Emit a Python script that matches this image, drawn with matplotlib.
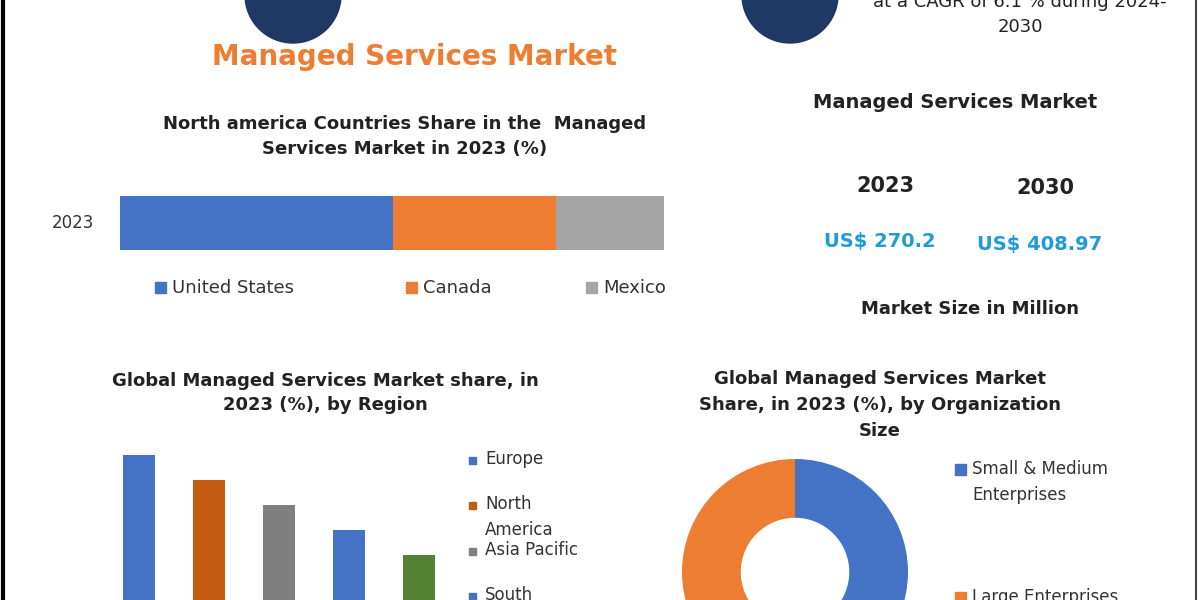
import matplotlib.pyplot as plt
from matplotlib.patches import Circle, Rectangle

W, H = 1200, 600

# data
na_countries = ['United States', 'Canada', 'Mexico']
na_share = [50.2, 30.0, 19.8]
na_colors = ['#4472c4', '#ed7d31', '#a5a5a5']

regions = ['Europe', 'North\nAmerica', 'Asia Pacific', 'South\nAmerica', 'Middle East\n& Africa']
region_share = [39, 34, 29, 24, 19]
region_colors = ['#4472c4', '#c55a11', '#7f7f7f', '#4472c4', '#548235']

org_sizes = ['Small & Medium\nEnterprises', 'Large Enterprises']
org_share = [50, 50]
org_colors = ['#4472c4', '#ed7d31']

market_years = ['2023', '2030']
market_values = ['US$ 270.2', 'US$ 408.97']

fig = plt.figure(figsize=(12, 6), dpi=100)
fig.patch.set_facecolor('white')


def ax_px(x0, y0, x1, y1):
    # pixel box (top-left origin) -> figure axes
    return fig.add_axes([x0 / W, 1 - y1 / H, (x1 - x0) / W, (y1 - y0) / H])


def txt(x, y, s, **kw):
    fig.text(x / W, 1 - y / H, s, ha='center', va='center', **kw)


# decorations at the top
bg = ax_px(0, 0, W, H)
bg.set_xlim(0, W)
bg.set_ylim(H, 0)
bg.axis('off')
for cx in (293, 790):
    bg.add_patch(Circle((cx, -5), 48, color='#1f3864'))
bg.plot([3, 3], [0, H], color='black', lw=3)
bg.plot([1196, 1196], [0, H], color='#444444', lw=1.5)

txt(1020, 2, 'at a CAGR of 6.1 % during 2024-', fontsize=13, color='#222222')
txt(1020, 27, '2030', fontsize=13, color='#222222')
txt(415, 57, 'Managed Services Market', fontsize=20, fontweight='bold', color='#ed7d31')

# North america stacked bar
txt(405, 137, 'North america Countries Share in the  Managed\nServices Market in 2023 (%)',
    fontsize=13, fontweight='bold', color='#222222', linespacing=1.5)
ax1 = ax_px(120, 196, 664, 250)
left = 0
for name, v, c in zip(na_countries, na_share, na_colors):
    ax1.barh(0, v, left=left, color=c, height=1.0)
    left += v
ax1.set_xlim(0, 100)
ax1.set_ylim(-0.5, 0.5)
ax1.axis('off')
txt(73, 223, '2023', fontsize=12, color='#333333')
for x, name, c in zip((155, 406, 586), na_countries, na_colors):
    bg.add_patch(Rectangle((x, 282), 11, 11, color=c))
    fig.text((x + 17) / W, 1 - 288 / H, name, ha='left', va='center', fontsize=13, color='#333333')

# right panel
txt(955, 102, 'Managed Services Market', fontsize=14, fontweight='bold', color='#222222')
for x, y, yr, val in zip((885, 1045), (186, 188), market_years, market_values):
    txt(x, y, yr, fontsize=15, fontweight='bold', color='#222222')
    txt(x - 5, y + 56, val, fontsize=14, fontweight='bold', color='#1f9bd7')
txt(970, 309, 'Market Size in Million', fontsize=13, fontweight='bold', color='#222222')

# regions bar chart
txt(325, 393, 'Global Managed Services Market share, in\n2023 (%), by Region',
    fontsize=13, fontweight='bold', color='#222222', linespacing=1.5)
ax2 = ax_px(104, 400, 454, 650)
ax2.bar(range(len(regions)), region_share, color=region_colors, width=0.46)
ax2.set_xlim(-0.5, len(regions) - 0.5)
ax2.set_ylim(0, 50)
ax2.axis('off')
for y, name, c in zip((461, 506, 552, 597), regions, region_colors):
    bg.add_patch(Rectangle((469, y - 4), 7, 7, color=c))
    fig.text(485 / W, 1 - (y - 11) / H, name, ha='left', va='top',
             fontsize=12, color='#333333', linespacing=1.6)

# organization donut
txt(880, 405, 'Global Managed Services Market\nShare, in 2023 (%), by Organization\nSize',
    fontsize=13, fontweight='bold', color='#222222', linespacing=1.55)
ax3 = ax_px(682, 459, 908, 685)
ax3.pie(org_share, colors=org_colors, startangle=90, counterclock=False,
        wedgeprops=dict(width=0.52))
ax3.set_xlim(-1, 1)
ax3.set_ylim(-1, 1)
ax3.set_aspect('equal')
for y, name, c in zip((470, 598), org_sizes, org_colors):
    bg.add_patch(Rectangle((955, y - 6), 11, 11, color=c))
    fig.text(972 / W, 1 - (y - 10) / H, name, ha='left', va='top', fontsize=12,
             color='#333333', linespacing=1.6)

fig.savefig('out.png', dpi=100)
